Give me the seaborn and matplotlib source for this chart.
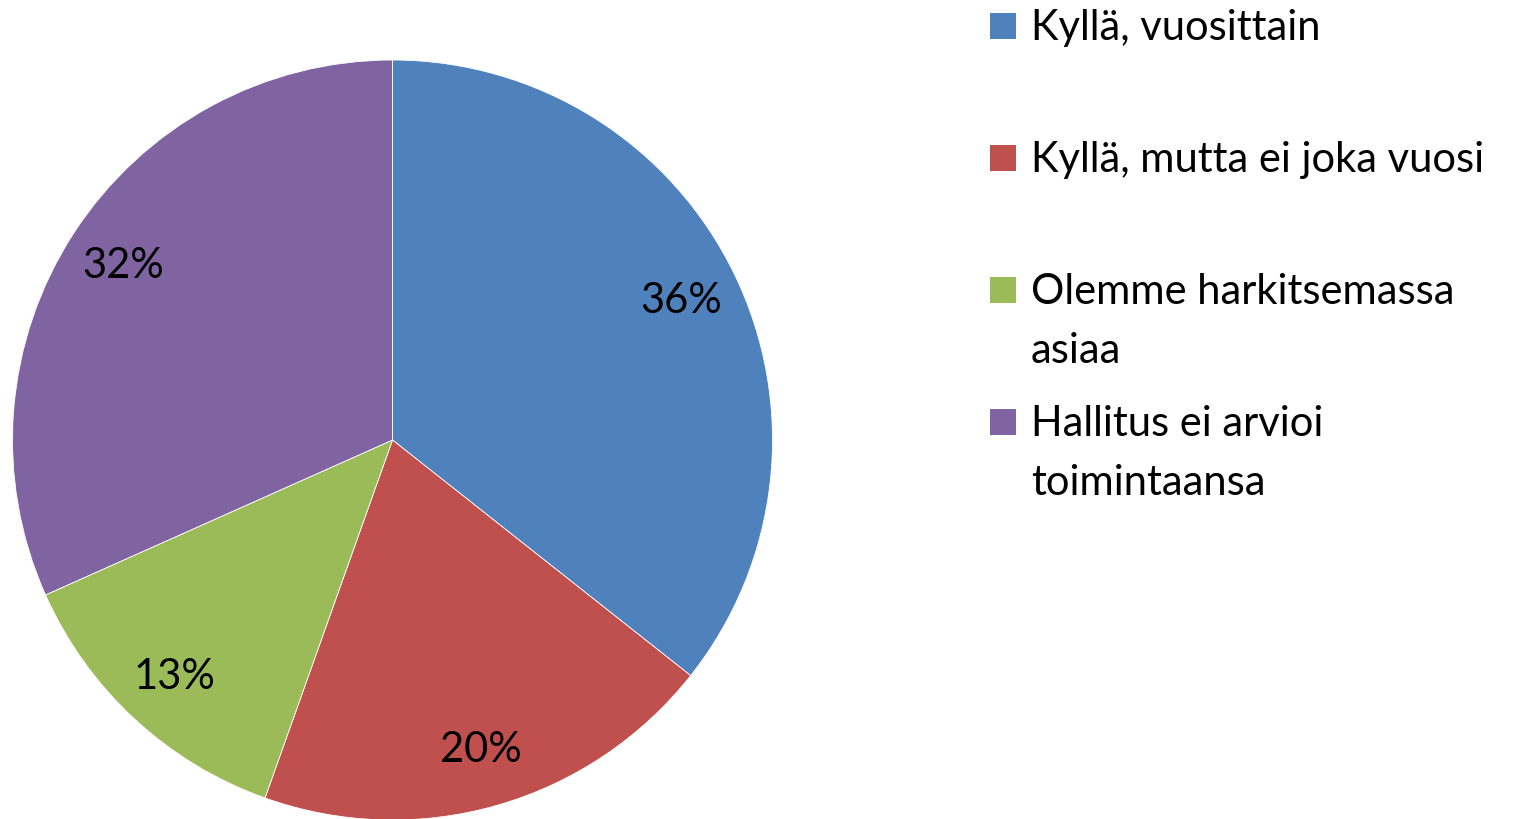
import numpy as np
import pandas as pd
import matplotlib
matplotlib.use('Agg')
import matplotlib.pyplot as plt
import seaborn as sns
from matplotlib.patches import Rectangle

#%% data
categories = ['Kyllä, vuosittain', 'Kyllä, mutta ei joka vuosi',
              'Olemme harkitsemassa\nasiaa', 'Hallitus ei arvioi\ntoimintaansa']
shares     = [36, 20, 13, 32]
pct_labels = ['36%', '20%', '13%', '32%']
colors     = ['#4F81BD', '#C0504D', '#9BBB59', '#8064A2']

sns.set_theme(style='white')
plt.rcParams['font.family'] = ['Lato', 'DejaVu Sans']

#%% pie
fig = plt.figure(figsize=(15.33, 8.2), dpi=100)
W, H = 1533, 820
cx, cy, r = 392.5, 441, 380
ax = fig.add_axes([(cx - r) / W, (H - cy - r) / H, 2 * r / W, 2 * r / H])

wedges, _ = ax.pie(shares, colors=colors, startangle=90, counterclock=False,
                   wedgeprops=dict(edgecolor='white', linewidth=0.6))
ax.set_xlim(-1, 1)
ax.set_ylim(-1, 1)
ax.set_aspect('equal')
ax.axis('off')

# percentage labels at ~0.84 radius
for w, lab in zip(wedges, pct_labels):
    mid = np.deg2rad((w.theta1 + w.theta2) / 2)
    ax.text(0.845 * np.cos(mid), 0.845 * np.sin(mid), lab, ha='center', va='center',
            fontsize=30, color='black')

#%% legend (fixed entry spacing like Excel)
base0 = 40
for i, (lab, c) in enumerate(zip(categories, colors)):
    y = base0 + i * 132
    fig.patches.append(Rectangle((990 / W, 1 - (y) / H), 26 / W, 26 / H,
                                 transform=fig.transFigure, facecolor=c, edgecolor='none'))
    for j, line in enumerate(lab.split('\n')):
        fig.text(1031 / W, 1 - (y + j * 59) / H, line, ha='left', va='baseline',
                 fontsize=30, color='black')

fig.savefig('out.png', dpi=100)
